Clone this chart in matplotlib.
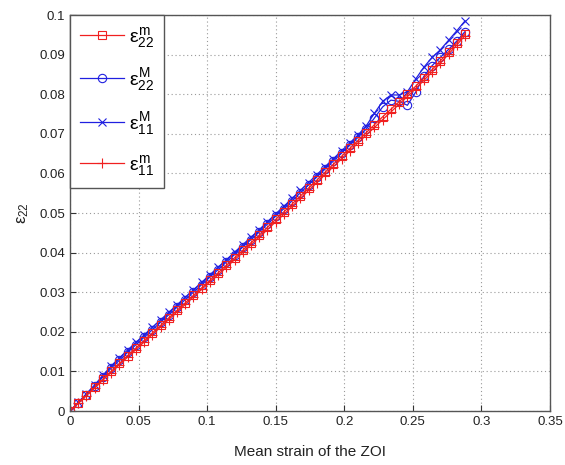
import matplotlib
matplotlib.use("Agg")
from matplotlib import pyplot as plt

plt.rcParams['font.family'] = ['Liberation Sans', 'DejaVu Sans']
plt.rcParams['mathtext.fontset'] = 'custom'
plt.rcParams['mathtext.rm'] = 'Liberation Sans'
plt.rcParams['mathtext.it'] = 'Liberation Sans'

# mean strain of the ZOI (x)
strain = [0.000, 0.006, 0.012, 0.018, 0.024, 0.030, 0.036, 0.042, 0.048, 0.054,
          0.060, 0.066, 0.072, 0.078, 0.084, 0.090, 0.096, 0.102, 0.108, 0.114,
          0.120, 0.126, 0.132, 0.138, 0.144, 0.150, 0.156, 0.162, 0.168, 0.174,
          0.180, 0.186, 0.192, 0.198, 0.204, 0.210, 0.216, 0.222, 0.228, 0.234,
          0.240, 0.246, 0.252, 0.258, 0.264, 0.270, 0.276, 0.282, 0.288]

e22_m = [0.0000, 0.0020, 0.0040, 0.0060, 0.0080, 0.0100, 0.0120, 0.0140, 0.0159, 0.0178,
         0.0197, 0.0216, 0.0235, 0.0254, 0.0273, 0.0292, 0.0311, 0.0330, 0.0349, 0.0368,
         0.0387, 0.0406, 0.0425, 0.0444, 0.0464, 0.0484, 0.0503, 0.0523, 0.0543, 0.0563,
         0.0583, 0.0603, 0.0623, 0.0643, 0.0663, 0.0683, 0.0703, 0.0723, 0.0743, 0.0762,
         0.0781, 0.0800, 0.0820, 0.0841, 0.0862, 0.0884, 0.0907, 0.0930, 0.0953]

e22_M = [0.0000, 0.0021, 0.0041, 0.0062, 0.0086, 0.0108, 0.0128, 0.0148, 0.0167, 0.0186,
         0.0205, 0.0224, 0.0243, 0.0262, 0.0281, 0.0300, 0.0319, 0.0338, 0.0357, 0.0376,
         0.0395, 0.0414, 0.0433, 0.0452, 0.0472, 0.0492, 0.0511, 0.0531, 0.0551, 0.0571,
         0.0591, 0.0611, 0.0631, 0.0651, 0.0671, 0.0691, 0.0712, 0.0740, 0.0768, 0.0785,
         0.0782, 0.0772, 0.0805, 0.0845, 0.0872, 0.0893, 0.0913, 0.0934, 0.0958]

e11_M = [0.0000, 0.0022, 0.0044, 0.0066, 0.0090, 0.0114, 0.0134, 0.0154, 0.0173, 0.0192,
         0.0211, 0.0230, 0.0249, 0.0268, 0.0287, 0.0306, 0.0325, 0.0344, 0.0363, 0.0382,
         0.0401, 0.0420, 0.0439, 0.0458, 0.0478, 0.0498, 0.0517, 0.0537, 0.0557, 0.0577,
         0.0597, 0.0617, 0.0637, 0.0657, 0.0677, 0.0697, 0.0720, 0.0752, 0.0782, 0.0798,
         0.0798, 0.0806, 0.0838, 0.0868, 0.0893, 0.0912, 0.0936, 0.0960, 0.0985]

e11_m = [0.0000, 0.0019, 0.0039, 0.0058, 0.0078, 0.0097, 0.0117, 0.0136, 0.0155, 0.0174,
         0.0193, 0.0212, 0.0231, 0.0250, 0.0269, 0.0288, 0.0307, 0.0326, 0.0344, 0.0363,
         0.0382, 0.0401, 0.0420, 0.0439, 0.0458, 0.0478, 0.0497, 0.0517, 0.0537, 0.0557,
         0.0577, 0.0597, 0.0617, 0.0637, 0.0657, 0.0677, 0.0697, 0.0716, 0.0736, 0.0755,
         0.0775, 0.0794, 0.0814, 0.0835, 0.0856, 0.0878, 0.0901, 0.0924, 0.0948]

xticks = [0, 0.05, 0.1, 0.15, 0.2, 0.25, 0.3, 0.35]
xticklabels = ['0', '0.05', '0.1', '0.15', '0.2', '0.25', '0.3', '0.35']
yticks = [0, 0.01, 0.02, 0.03, 0.04, 0.05, 0.06, 0.07, 0.08, 0.09, 0.1]
yticklabels = ['0', '0.01', '0.02', '0.03', '0.04', '0.05', '0.06', '0.07', '0.08', '0.09', '0.1']

fig = plt.figure(figsize=(5.65, 4.65), dpi=100)
ax = fig.add_axes([70 / 565, 54 / 465, 480 / 565, 396 / 465])

red = '#f02020'
blue = '#2020e0'
p3, = ax.plot(strain, e11_M, color=blue, marker='x', ms=5.5, lw=0.9, mew=0.8)
p2, = ax.plot(strain, e22_M, color=blue, marker='o', ms=6, lw=0.9, mew=0.8, mfc='none')
p4, = ax.plot(strain, e11_m, color=red, marker='+', ms=6.5, lw=0.9, mew=0.8)
p1, = ax.plot(strain, e22_m, color=red, marker='s', ms=6, lw=0.9, mew=0.8, mfc='none')

ax.set_xlim(0, 0.35)
ax.set_ylim(0, 0.1)
ax.set_xticks(xticks)
ax.set_xticklabels(xticklabels)
ax.set_yticks(yticks)
ax.set_yticklabels(yticklabels)
ax.tick_params(direction='in', labelsize=9.5, length=4, colors='#333333', labelcolor='#222222')
ax.grid(True, linestyle=(0, (1, 2.5)), color='#999999', linewidth=0.8)
for s in ax.spines.values():
    s.set_color('#555555')
    s.set_linewidth(1.0)

ax.set_xlabel('Mean strain of the ZOI', fontsize=11, color='#222222', labelpad=12)
ax.set_ylabel(r'$\epsilon_{22}$', fontsize=12, color='#222222', labelpad=6)

leg = ax.legend([p1, p2, p3, p4],
                [r'$\epsilon^{m}_{22}$', r'$\epsilon^{M}_{22}$', r'$\epsilon^{M}_{11}$', r'$\epsilon^{m}_{11}$'],
                loc='upper left', fontsize=14, fancybox=False, framealpha=1,
                edgecolor='#555555', borderaxespad=0, handlelength=2.3,
                labelspacing=0.85, borderpad=0.5, handletextpad=0.25)
leg.get_frame().set_linewidth(1.0)

fig.savefig('out.png', dpi=100)
